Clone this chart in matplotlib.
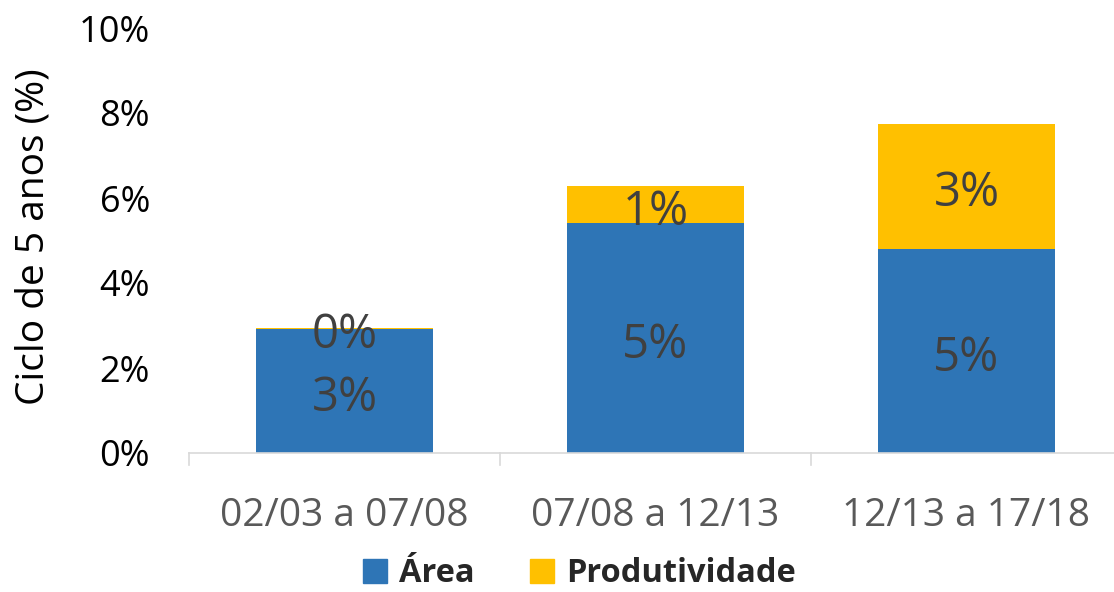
import matplotlib
matplotlib.use("Agg")
import matplotlib.pyplot as plt
from matplotlib.patches import Patch
from matplotlib.ticker import FuncFormatter

plt.rcParams['font.family'] = ['Open Sans', 'DejaVu Sans']

periodos = ["02/03 a 07/08", "07/08 a 12/13", "12/13 a 17/18"]
area = [2.92, 5.41, 4.80]
produtividade = [0.03, 0.87, 2.94]

cor_area = "#2E75B6"
cor_prod = "#FFC000"

fig = plt.figure(figsize=(11.14, 5.92), dpi=100)
ax = fig.add_axes([189 / 1114, 139 / 592, 933 / 1114, 425 / 592])

x = list(range(len(periodos)))
largura = 0.57
ax.bar(x, area, width=largura, color=cor_area, zorder=2)
ax.bar(x, produtividade, width=largura, bottom=area, color=cor_prod, zorder=2)

# value labels, centred in each segment (nudged down slightly)
desloc = -0.17
rotulo = dict(ha="center", va="center", fontsize=34, color="#404040", zorder=3)
for xi, a, p in zip(x, area, produtividade):
    ax.text(xi, a / 2 + desloc, f"{a:.0f}%", **rotulo)
    ax.text(xi, a + p / 2 + desloc, f"{p:.0f}%", **rotulo)

ax.set_xlim(-0.5, len(periodos) - 0.5)
ax.set_ylim(0, 10)
ax.set_yticks(range(0, 11, 2))
ax.yaxis.set_major_formatter(FuncFormatter(lambda v, _: f"{v:.0f}%"))
ax.set_xticks(x)
ax.set_xticklabels(periodos)
ax.tick_params(axis="y", length=0, labelsize=26, labelcolor="black", pad=28)
ax.tick_params(axis="x", length=0, labelsize=28, labelcolor="#595959", pad=32)

# category boundary ticks on the x axis
for b in [-0.5, 0.5, 1.5, 2.5]:
    ax.plot([b, b], [0, -0.28], color="#D9D9D9", lw=1.2, clip_on=False, zorder=1)

for s in ["top", "right", "left"]:
    ax.spines[s].set_visible(False)
ax.spines["bottom"].set_color("#D9D9D9")
ax.spines["bottom"].set_linewidth(1.2)

fig.text(0.030, 0.60, "Ciclo de 5 anos (%)", rotation=90, ha="center", va="center",
         fontsize=28, color="black")

handles = [Patch(color=cor_area, label="Área"), Patch(color=cor_prod, label="Produtividade")]
fig.legend(handles=handles, loc="center", bbox_to_anchor=(0.52, 0.031), ncol=2,
           frameon=False, handlelength=0.75, handleheight=0.75, handletextpad=0.35,
           columnspacing=1.7, prop={"size": 23.5, "weight": "bold"}, labelcolor="#262626",
           borderpad=0.1)

fig.savefig("out.png", dpi=100)
